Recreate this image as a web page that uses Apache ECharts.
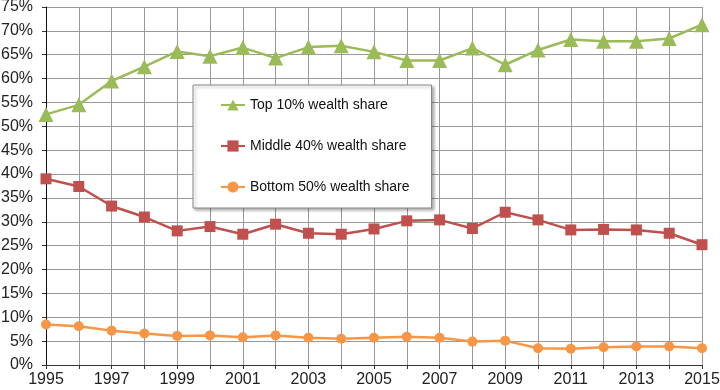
<!DOCTYPE html>
<html>
<head>
<meta charset="utf-8">
<script src="https://cdn.jsdelivr.net/npm/echarts@6/dist/echarts.min.js"></script>
<style>
  html, body { margin: 0; padding: 0; background: #fff; }
  #chart { width: 720px; height: 390px; }
</style>
</head>
<body>
<div id="chart"></div>
<script>
const years = ['1995', '1996', '1997', '1998', '1999', '2000', '2001', '2002', '2003', '2004', '2005',
  '2006', '2007', '2008', '2009', '2010', '2011', '2012', '2013', '2014', '2015']
const top10 = [52.5, 54.5, 59.5, 62.5, 65.7, 64.7, 66.5, 64.3, 66.6, 66.9, 65.6,
  63.8, 63.8, 66.4, 62.9, 66.0, 68.2, 67.8, 67.8, 68.4, 71.3]
const middle40 = [39.0, 37.4, 33.3, 31.0, 28.1, 29.0, 27.4, 29.5, 27.6, 27.4, 28.5,
  30.2, 30.4, 28.6, 32.0, 30.4, 28.3, 28.4, 28.3, 27.6, 25.2]
const bottom50 = [8.5, 8.1, 7.2, 6.6, 6.1, 6.2, 5.8, 6.2, 5.7, 5.5, 5.7,
  5.9, 5.7, 4.9, 5.1, 3.5, 3.4, 3.7, 3.9, 3.9, 3.5]

const chart = echarts.init(document.getElementById('chart'))
const font = 'Liberation Sans, Arial, sans-serif'

chart.setOption({
  animation: false,
  textStyle: { fontFamily: font },
  grid: { left: 46, right: 18, top: 7, bottom: 25, outerBoundsMode: 'none', containLabel: false },
  legend: {
    orient: 'vertical',
    left: 193,
    top: 85,
    padding: [13, 22, 14, 27],
    itemGap: 27,
    itemWidth: 24,
    itemHeight: 14,
    backgroundColor: '#fff',
    borderColor: '#888',
    borderWidth: 1,
    shadowBlur: 3,
    shadowColor: 'rgba(0,0,0,0.3)',
    shadowOffsetX: 2,
    shadowOffsetY: 2,
    textStyle: { fontSize: 14, color: '#111', fontFamily: font }
  },
  xAxis: {
    type: 'category',
    data: years,
    boundaryGap: false,
    axisLine: { lineStyle: { color: '#333', width: 1 } },
    axisTick: { show: true, interval: 0, length: 4, lineStyle: { color: '#333' } },
    axisLabel: { interval: 1, color: '#222', fontSize: 16, margin: 7 },
    splitLine: { show: true, interval: 0, lineStyle: { color: '#999', width: 1 } }
  },
  yAxis: {
    type: 'value',
    min: 0,
    max: 75,
    interval: 5,
    axisLine: { show: true, lineStyle: { color: '#111', width: 1 } },
    axisTick: { show: true, length: 4, lineStyle: { color: '#333' } },
    axisLabel: { color: '#222', fontSize: 16, margin: 13, formatter: '{value}%' },
    splitLine: { lineStyle: { color: '#999', width: 1 } }
  },
  series: [
    {
      name: 'Top 10% wealth share',
      type: 'line',
      data: top10,
      symbol: 'triangle',
      symbolSize: 15,
      color: '#9bbb59',
      lineStyle: { width: 2.5, color: '#9bbb59' },
      itemStyle: { color: '#9bbb59' }
    },
    {
      name: 'Middle 40% wealth share',
      type: 'line',
      data: middle40,
      symbol: 'rect',
      symbolSize: 11,
      color: '#c0504d',
      lineStyle: { width: 2.5, color: '#c0504d' },
      itemStyle: { color: '#c0504d' }
    },
    {
      name: 'Bottom 50% wealth share',
      type: 'line',
      data: bottom50,
      symbol: 'circle',
      symbolSize: 10,
      color: '#f79646',
      lineStyle: { width: 2.5, color: '#f79646' },
      itemStyle: { color: '#f79646' }
    }
  ]
})
</script>
</body>
</html>
